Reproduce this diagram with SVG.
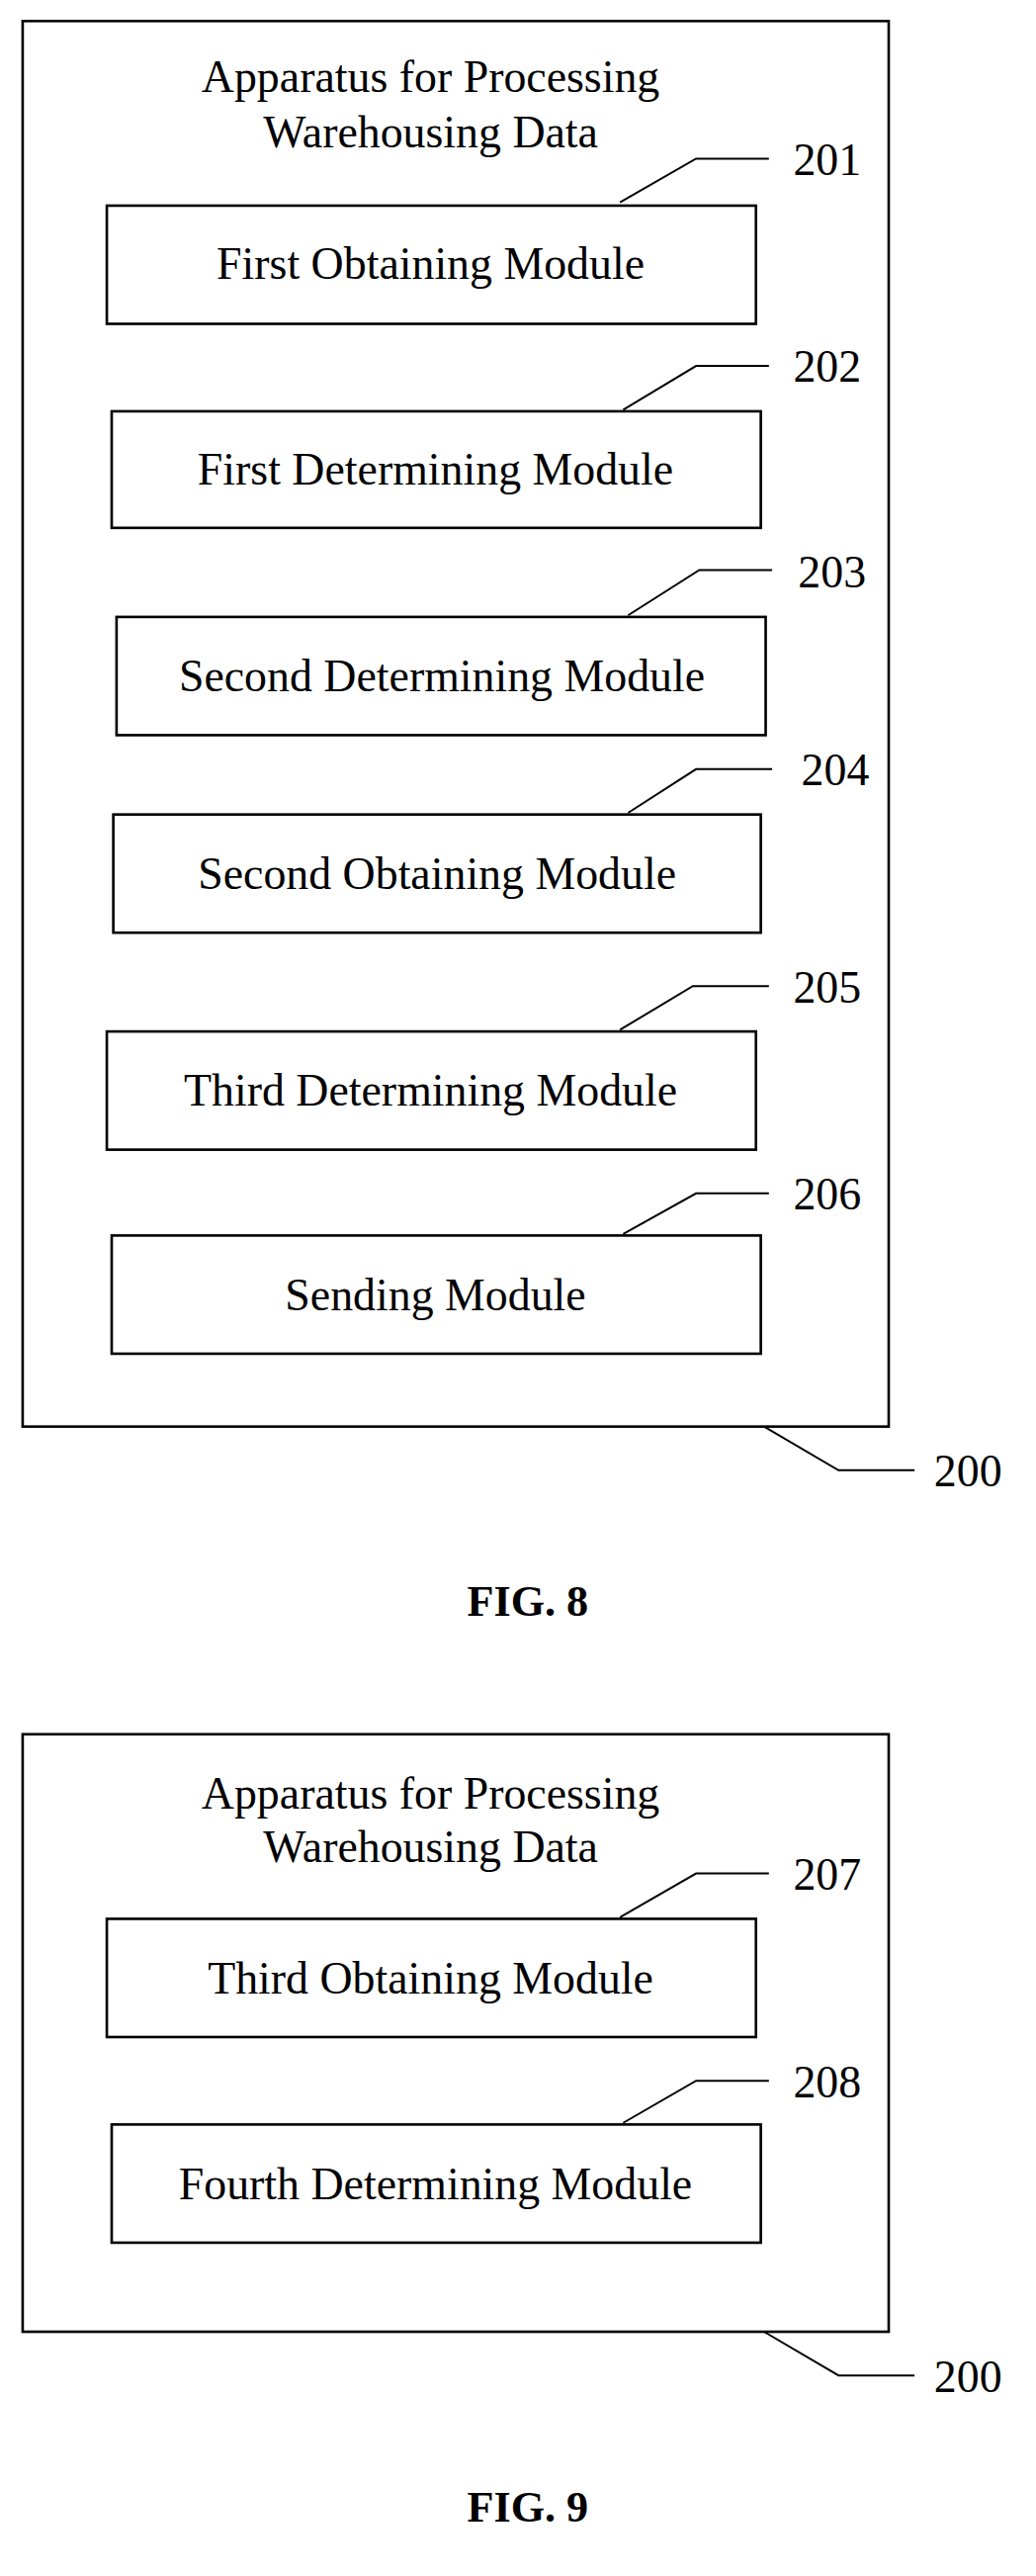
<svg xmlns="http://www.w3.org/2000/svg" width="1048" height="2605" viewBox="0 0 1048 2605">
<style>
.box{fill:#fff;stroke:#000;stroke-width:1.6}
.ld{fill:none;stroke:#000;stroke-width:1.2}
text{font-family:"Liberation Serif","Times New Roman",serif;font-size:28px;fill:#000}
.c{text-anchor:middle}
.fig{font-weight:bold;text-anchor:middle;font-size:27px}
</style>
<rect width="1048" height="2605" fill="#fff"/>
<g transform="scale(1.6375)">
<g id="fig8">
<rect class="box" x="14" y="13" width="535" height="868"/>
<text class="c" x="266" y="57">Apparatus for Processing</text>
<text class="c" x="266" y="91">Warehousing Data</text>
</g>
<g id="m201"><rect class="box" x="66" y="127" width="401" height="73"/><text class="c" x="266" y="172">First Obtaining Module</text><text x="490" y="108">201</text></g>
<g id="m202"><rect class="box" x="69" y="254" width="401" height="72"/><text class="c" x="269" y="299">First Determining Module</text><text x="490" y="236">202</text></g>
<g id="m203"><rect class="box" x="72" y="381" width="401" height="73"/><text class="c" x="273" y="427">Second Determining Module</text><text x="493" y="363">203</text></g>
<g id="m204"><rect class="box" x="70" y="503" width="400" height="73"/><text class="c" x="270" y="549">Second Obtaining Module</text><text x="495" y="485">204</text></g>
<g id="m205"><rect class="box" x="66" y="637" width="401" height="73"/><text class="c" x="266" y="683">Third Determining Module</text><text x="490" y="619">205</text></g>
<g id="m206"><rect class="box" x="69" y="763" width="401" height="73"/><text class="c" x="269" y="809">Sending Module</text><text x="490" y="747">206</text></g>
<g id="l200a"><text x="577" y="918">200</text></g>
<text class="fig" x="326" y="998">FIG. 8</text>

<g id="fig9">
<rect class="box" x="14" y="1071" width="535" height="369"/>
<text class="c" x="266" y="1117">Apparatus for Processing</text>
<text class="c" x="266" y="1150">Warehousing Data</text>
</g>
<g id="m207"><rect class="box" x="66" y="1185" width="401" height="73"/><text class="c" x="266" y="1231">Third Obtaining Module</text><text x="490" y="1167">207</text></g>
<g id="m208"><rect class="box" x="69" y="1312" width="401" height="73"/><text class="c" x="269" y="1358">Fourth Determining Module</text><text x="490" y="1295">208</text></g>
<g id="l200b"><text x="577" y="1477">200</text></g>
<text class="fig" x="326" y="1557">FIG. 9</text>

<g id="connectors">
<polyline class="ld" points="383,125 430,98 475,98"/>
<polyline class="ld" points="385,253 430,226 475,226"/>
<polyline class="ld" points="388,380 432,352 477,352"/>
<polyline class="ld" points="388,502 430,475 477,475"/>
<polyline class="ld" points="383,636 428,609 475,609"/>
<polyline class="ld" points="385,762 430,737 475,737"/>
<polyline class="ld" points="472,881 518,908 565,908"/>
<polyline class="ld" points="383,1184 430,1157 475,1157"/>
<polyline class="ld" points="385,1311 430,1285 475,1285"/>
<polyline class="ld" points="472,1440 518,1467 565,1467"/>
</g>
</g>
</svg>
